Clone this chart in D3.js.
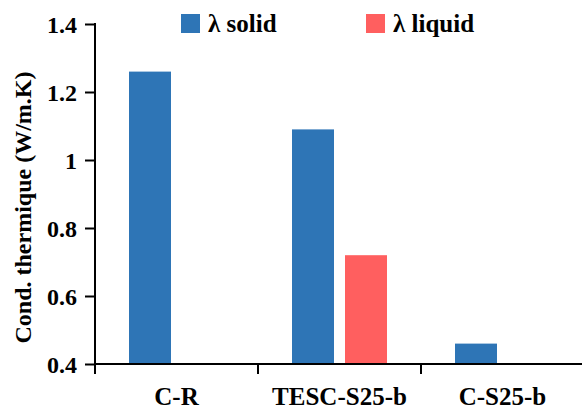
<!DOCTYPE html>
<html>
<head>
<meta charset="utf-8">
<script src="https://cdn.jsdelivr.net/npm/d3@7"></script>
<style>
  html, body { margin: 0; padding: 0; background: #fff; }
  svg { display: block; }
  text { font-family: "Liberation Serif", "Times New Roman", serif; font-weight: bold; fill: #000; }
</style>
</head>
<body>
<script>
const categories = ["C-R", "TESC-S25-b", "C-S25-b"];
const seriesNames = ["λ solid", "λ liquid"];
const solidValues = [1.26, 1.09, 0.46];
const liquidValues = [null, 0.72, null];
const yTicks = [0.4, 0.6, 0.8, 1, 1.2, 1.4];
const colors = ["#2E75B6", "#FF5F5F"];

const W = 582, H = 412;
const svg = d3.select("body").append("svg").attr("width", W).attr("height", H)
  .attr("font-family", "'Liberation Serif', 'Times New Roman', serif");

const x = d3.scaleBand().domain(categories).range([95, 584]).padding(0);
const xInner = d3.scaleBand().domain(seriesNames)
  .range([34, 129]).paddingInner(11 / 53).paddingOuter(0);
const y = d3.scaleLinear().domain([0.4, 1.4]).range([364, 24]);

const data = [];
categories.forEach((c, i) => {
  if (solidValues[i] != null) data.push({ cat: c, s: 0, v: solidValues[i] });
  if (liquidValues[i] != null) data.push({ cat: c, s: 1, v: liquidValues[i] });
});

svg.append("g").selectAll("rect").data(data).join("rect")
  .attr("x", d => x(d.cat) + xInner(seriesNames[d.s]))
  .attr("width", xInner.bandwidth())
  .attr("y", d => y(d.v))
  .attr("height", d => y(0.4) - y(d.v))
  .attr("fill", d => colors[d.s]);

// Y axis
const yAxis = svg.append("g").attr("transform", "translate(95,0)")
  .call(d3.axisLeft(y).tickValues(yTicks).tickSize(10).tickPadding(8)
    .tickFormat(d => d3.format("")(d)));
yAxis.attr("font-family", null).attr("font-size", null);
yAxis.select(".domain").remove();
yAxis.selectAll(".tick line").attr("stroke", "#000").attr("stroke-width", 2);
yAxis.selectAll(".tick text").style("font-size", "24px")
  .style("font-family", "'Liberation Serif', 'Times New Roman', serif")
  .style("font-weight", "bold").attr("fill", "#000").attr("dy", "0.34em");
svg.append("line").attr("x1", 95).attr("x2", 95).attr("y1", y(1.4) - 1).attr("y2", 374)
  .attr("stroke", "#000").attr("stroke-width", 2);

// X axis
svg.append("line").attr("x1", 94).attr("x2", 582).attr("y1", y(0.4)).attr("y2", y(0.4))
  .attr("stroke", "#000").attr("stroke-width", 2);
const xTickPos = categories.slice(1).map(c => x(c));
svg.append("g").selectAll("line").data(xTickPos).join("line")
  .attr("x1", d => d).attr("x2", d => d)
  .attr("y1", y(0.4)).attr("y2", y(0.4) + 10)
  .attr("stroke", "#000").attr("stroke-width", 2);
svg.append("g").selectAll("text").data(categories).join("text")
  .attr("x", d => x(d) + x.bandwidth() / 2)
  .attr("y", 405)
  .attr("text-anchor", "middle")
  .style("font-size", "25px")
  .text(d => d);

// Y title
svg.append("text")
  .attr("transform", `translate(31,${(73 + 342) / 2}) rotate(-90)`)
  .attr("text-anchor", "middle")
  .style("font-size", "24px")
  .text("Cond. thermique (W/m.K)");

// Legend
const legendX = [181, 366];
const lg = svg.append("g").selectAll("g").data(seriesNames).join("g")
  .attr("transform", (d, i) => `translate(${legendX[i]},14)`);
lg.append("rect").attr("width", 19).attr("height", 19).attr("fill", (d, i) => colors[i]);
lg.append("text").attr("x", 27).attr("y", 18).style("font-size", "25px").text(d => d);
</script>
</body>
</html>
